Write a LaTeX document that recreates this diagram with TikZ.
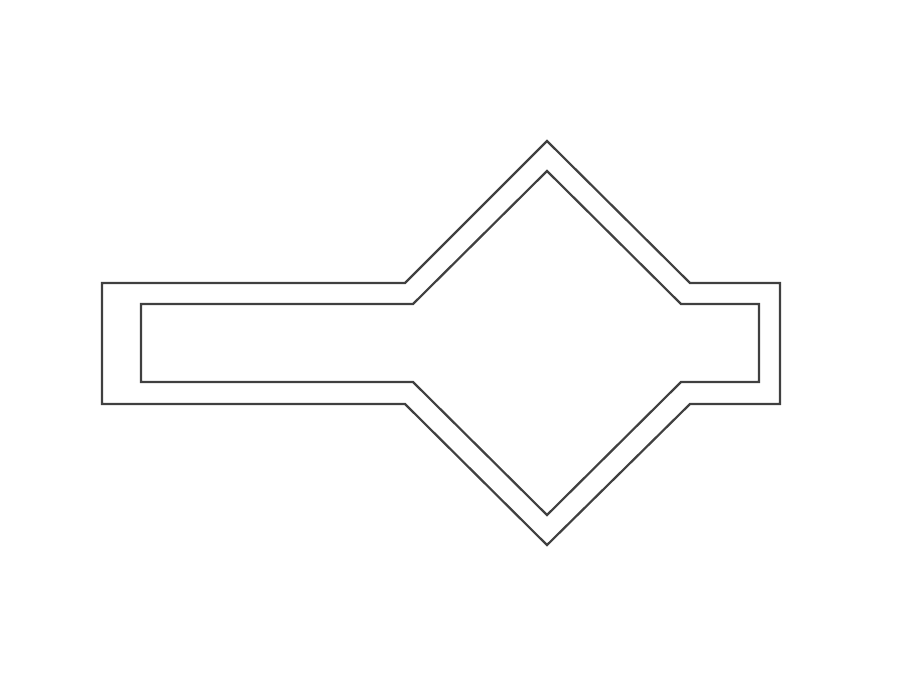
\documentclass[tikz,border=0pt]{standalone}
\usepackage{tikz}

\begin{document}
\begin{tikzpicture}[x=0.5pt, y=-0.5pt]
\tikzset{
    myoutline/.style={draw=black!75, line width=1.1pt, line join=miter}
}
\useasboundingbox (0,0) rectangle (920,682);
% outer outline
\draw[myoutline] (102,283) -- (405,283) -- (547,141) -- (690,283) -- (780,283) -- (780,404) -- (690,404) -- (547,545) -- (405,404) -- (102,404) -- cycle;
% inner outline
\draw[myoutline] (141,304) -- (413,304) -- (547,171) -- (681,304) -- (759,304) -- (759,382) -- (681,382) -- (547,515) -- (413,382) -- (141,382) -- cycle;
\end{tikzpicture}
\end{document}
